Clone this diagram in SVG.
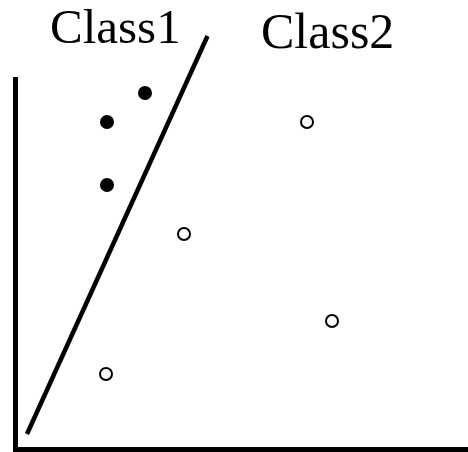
<svg xmlns="http://www.w3.org/2000/svg" width="468" height="452" viewBox="0 0 468 452">
<style>
.lbl{font-family:"Liberation Serif","Times New Roman",serif;fill:#000}
.ax{stroke:#000;stroke-width:5;fill:none}
.sep{stroke:#000;stroke-width:4.5;fill:none}
.c1{fill:#000}
.c2{fill:#fff;stroke:#000;stroke-width:2}
</style>
<rect width="468" height="452" fill="#fff"/>
<g id="axes">
<path class="ax" d="M15.5,77 V449.5 H468"/>
</g>
<g id="separator">
<line class="sep" x1="207.5" y1="36" x2="27" y2="434"/>
</g>
<g id="labels">
<text class="lbl" x="50" y="43" font-size="49">Class1</text>
<text class="lbl" x="261" y="48" font-size="50">Class2</text>
</g>
<g id="class1">
<circle class="c1" cx="145" cy="93" r="7"/>
<circle class="c1" cx="107" cy="122" r="7"/>
<circle class="c1" cx="107" cy="185" r="7"/>
</g>
<g id="class2">
<circle class="c2" cx="307" cy="122" r="6"/>
<circle class="c2" cx="184" cy="234" r="6"/>
<circle class="c2" cx="332" cy="321" r="6"/>
<circle class="c2" cx="106" cy="374" r="6"/>
</g>
</svg>
